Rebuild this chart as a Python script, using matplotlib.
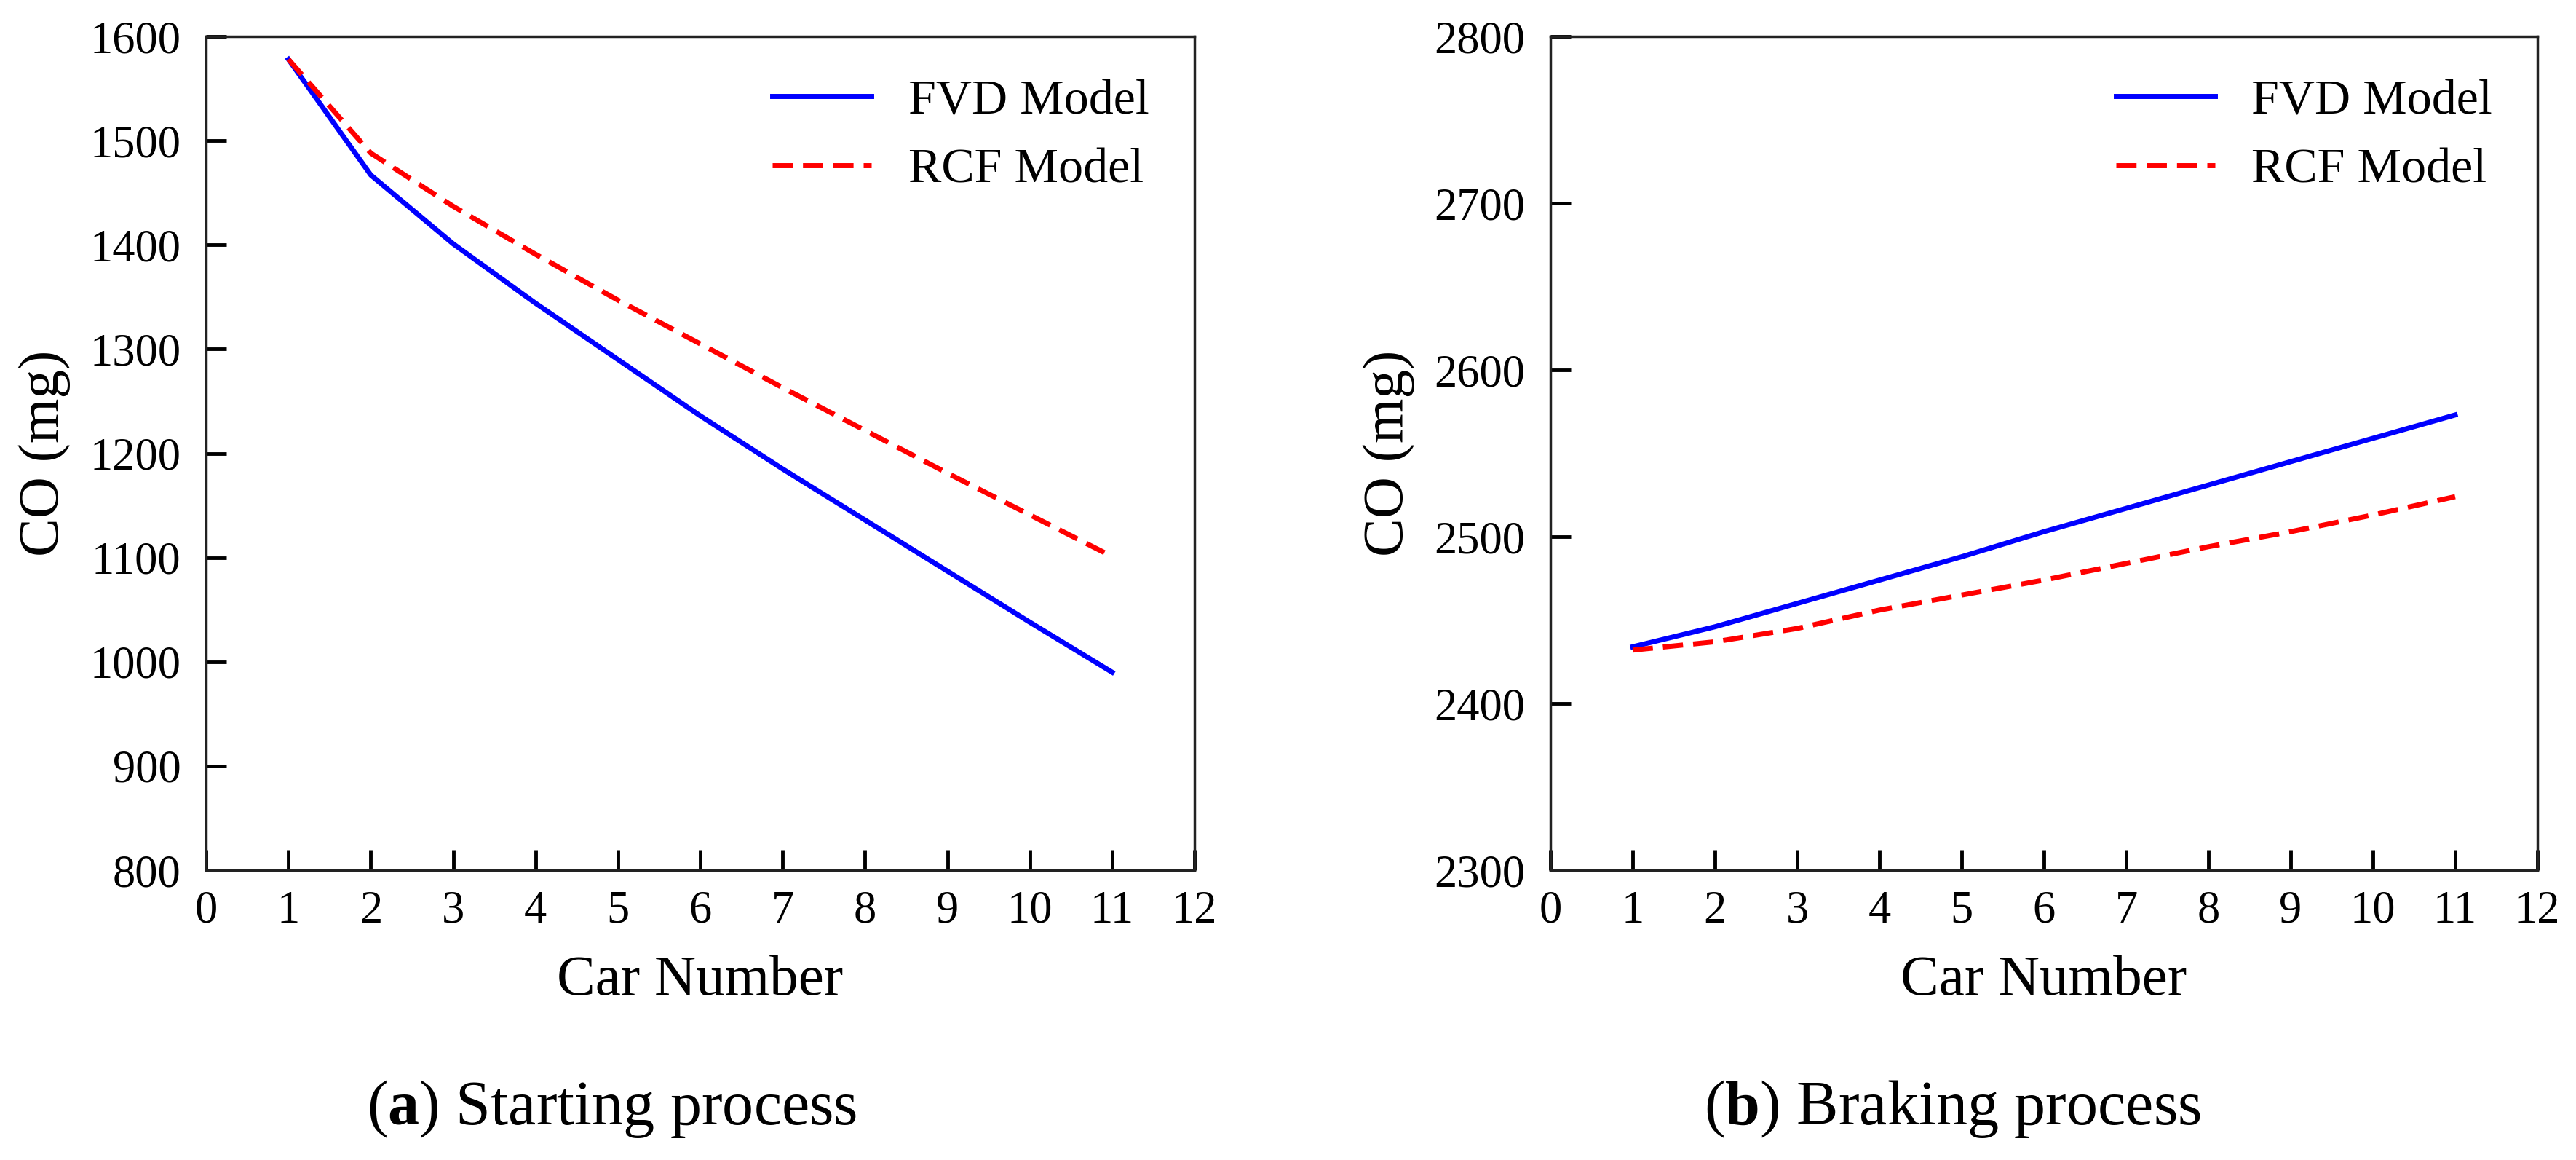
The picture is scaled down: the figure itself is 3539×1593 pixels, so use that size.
import numpy as np
import matplotlib
matplotlib.use("Agg")
import matplotlib.pyplot as plt

# data
cars = [1, 2, 3, 4, 5, 6, 7, 8, 9, 10, 11]
fvd_start = [1578, 1467, 1401, 1344, 1290, 1236, 1185, 1136, 1087, 1038, 990]
rcf_start = [1578, 1488, 1437, 1391, 1347, 1305, 1263, 1222, 1181, 1141, 1101]
fvd_brake = [2434, 2446, 2460, 2474, 2488, 2503, 2517, 2531, 2545, 2559, 2573]
rcf_brake = [2432, 2437, 2445, 2456, 2465, 2474, 2484, 2494, 2503, 2513, 2524]

xticks = list(range(0, 13))
yticks_start = list(range(800, 1601, 100))
yticks_brake = list(range(2300, 2801, 100))
captions = ["a", "b"]
caption_txt = ["Starting process", "Braking process"]

plt.rcParams['font.family'] = ['Liberation Serif', 'DejaVu Serif']
plt.rcParams['mathtext.fontset'] = 'custom'
plt.rcParams['mathtext.rm'] = 'Liberation Serif'
plt.rcParams['mathtext.bf'] = 'Liberation Serif:bold'

fig = plt.figure(figsize=(35.39, 15.93), dpi=100)
ax1 = fig.add_axes([0.0800, 0.2498, 0.3837, 0.7188])
ax2 = fig.add_axes([0.6019, 0.2498, 0.3831, 0.7188])

panneaux = [
    (ax1, fvd_start, rcf_start, yticks_start),
    (ax2, fvd_brake, rcf_brake, yticks_brake),
]

for ax, fvd, rcf, yt in panneaux:
    ax.plot(cars, fvd, color='#0000ff', lw=5, label='FVD Model')
    ax.plot(cars, rcf, color='#ff0000', lw=5, ls=(0, (4, 2)), label='RCF Model')
    ax.set_xlim(0, 12)
    ax.set_ylim(yt[0], yt[-1])
    ax.set_xticks(xticks)
    ax.set_yticks(yt)
    for s in ax.spines.values():
        s.set_linewidth(2.5)
        s.set_color('#222222')
    ax.tick_params(axis='both', direction='in', length=20, width=3.5,
                   labelsize=45, top=False, right=False)
    ax.tick_params(axis='x', pad=20)
    ax.tick_params(axis='y', pad=25)
    ax.set_xlabel('Car Number', fontsize=57, labelpad=22)
    ax.set_ylabel('CO (mg)', fontsize=57)
    ax.yaxis.set_label_coords(-0.137, 0.5)
    ax.legend(loc='upper left', bbox_to_anchor=(0.573, 0.949), frameon=False,
              fontsize=49, handlelength=2.0, handletextpad=0.74,
              labelspacing=0.48, borderpad=0, borderaxespad=0)

for i, (lettre, txt) in enumerate(zip(captions, caption_txt)):
    xpos = [0.2375, 0.758][i]
    fig.text(xpos, 0.031, r'($\mathbf{' + lettre + r'}$) ' + txt,
             fontsize=62, ha='center', va='baseline')

fig.savefig('out.png', dpi=100)
